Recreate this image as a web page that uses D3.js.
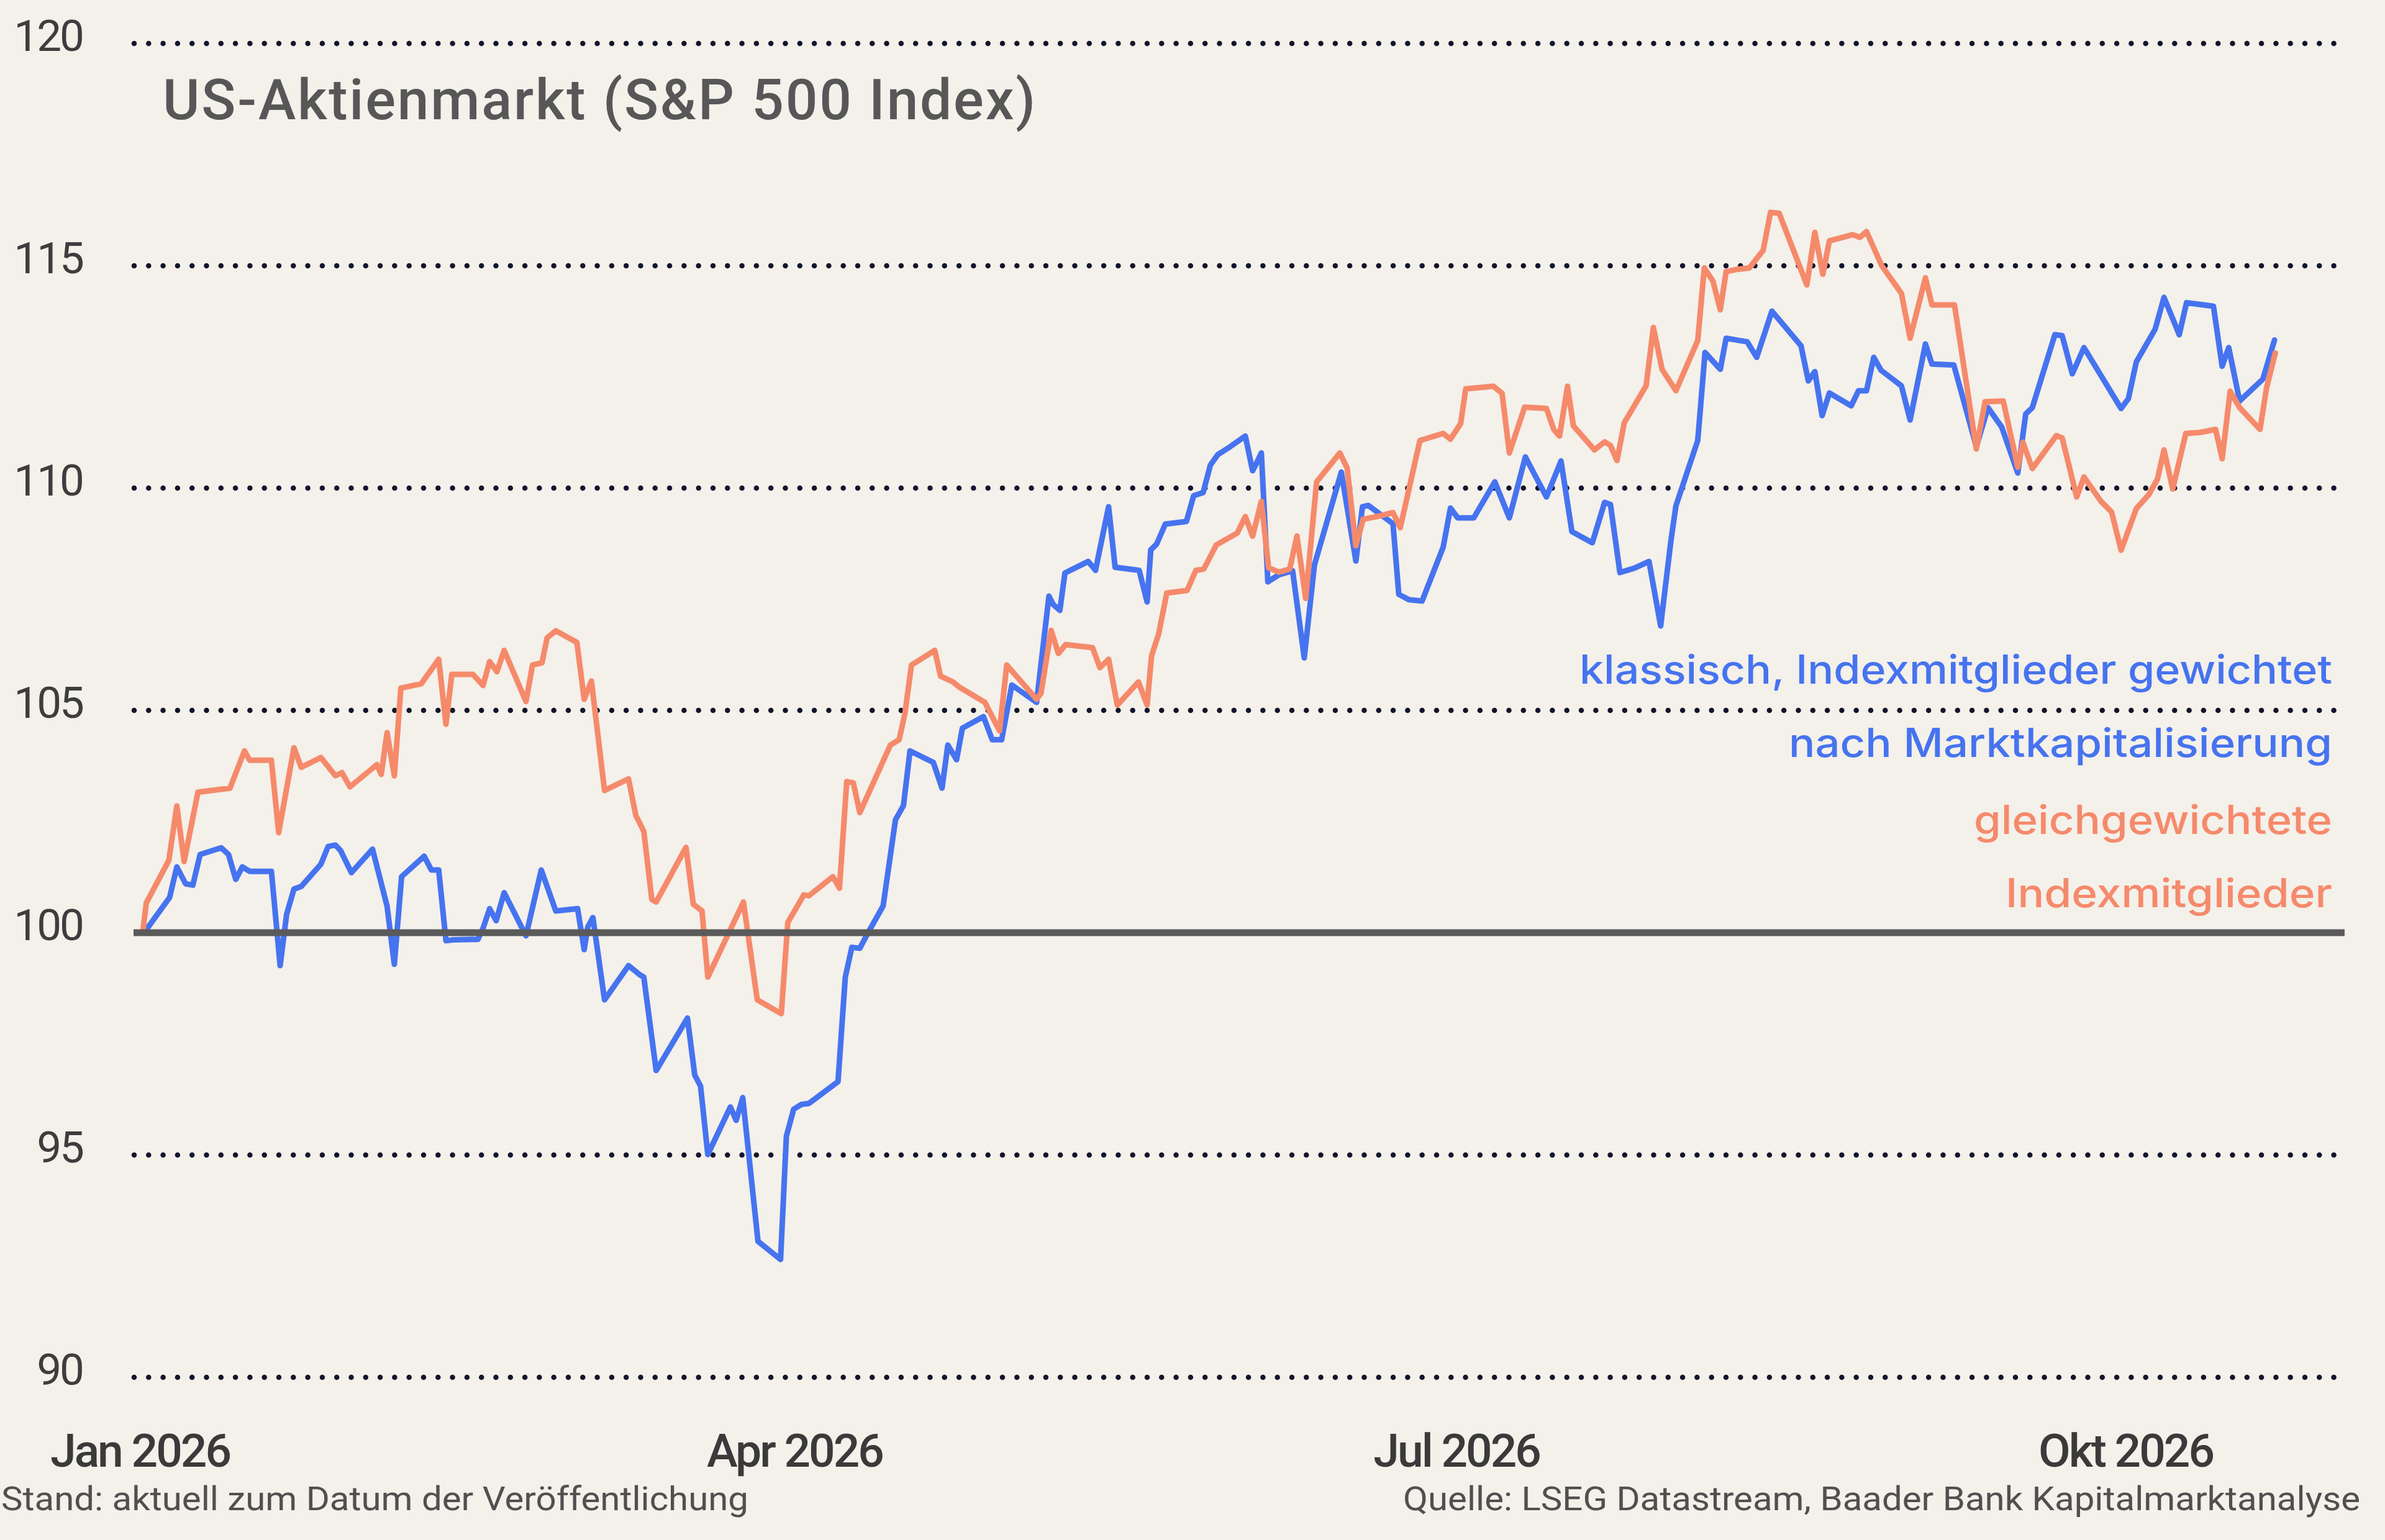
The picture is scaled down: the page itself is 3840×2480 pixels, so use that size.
<!DOCTYPE html>
<html><head><meta charset="utf-8">
<script src="https://cdn.jsdelivr.net/npm/d3@7"></script>
<style>html,body{margin:0;padding:0;background:#f4f0ea;} svg{display:block}</style>
</head><body>
<svg id="chart" width="3840" height="2480"></svg>
<script>
// ---------- data ----------
const chartTitle = "US-Aktienmarkt (S&P 500 Index)";
const yTicks = [90, 95, 100, 105, 110, 115, 120];
const xTickDates = ["2026-01-01", "2026-04-01", "2026-07-01", "2026-10-01"];
const xTickLabels = ["Jan 2026", "Apr 2026", "Jul 2026", "Okt 2026"];
const blueLabel = ["klassisch, Indexmitglieder gewichtet", "nach Marktkapitalisierung"];
const orangeLabel = ["gleichgewichtete", "Indexmitglieder"];
const footLeft = "Stand: aktuell zum Datum der Veröffentlichung";
const footRight = "Quelle: LSEG Datastream, Baader Bank Kapitalmarktanalyse";

// days after 1 Jan 2026
const blueDays = [0.6,4.1,5.1,6.3,7.3,8.3,11.2,12.2,13.2,14.1,
15.1,18.1,19.3,20.2,21.2,22.2,24.9,25.9,26.9,27.6,
29.1,32.0,34.0,35.0,36.0,39.1,40.1,41.1,42.1,43.1,
46.5,47.2,48.1,49.0,50.1,53.1,55.2,57.2,60.2,61.1,
61.6,62.3,63.9,67.2,68.7,69.3,71.0,75.3,76.3,77.1,
78.1,81.2,82.0,82.9,85.0,88.1,88.9,89.9,91.0,92.0,
96.0,97.0,97.9,99.0,100.3,102.2,103.9,105.0,105.9,109.1,
110.3,111.1,112.3,113.1,116.0,117.2,118.5,119.9,123.3,125.0,
125.6,126.5,127.2,130.4,131.4,133.2,134.1,137.4,138.5,139.0,
139.8,141.0,143.9,144.9,146.2,147.2,148.2,149.9,152.0,153.0,
153.6,154.2,155.1,156.6,158.5,160.1,161.5,165.2,167.2,168.1,
168.9,172.3,173.1,174.5,176.3,179.2,180.2,181.2,183.4,186.3,
188.3,190.5,193.4,195.4,196.9,199.7,201.4,202.2,203.5,205.5,
207.5,209.1,210.5,211.2,214.2,215.2,217.3,218.1,221.0,222.3,
224.4,228.4,229.4,230.3,231.3,232.3,235.3,236.3,237.4,238.4,
239.4,242.2,243.4,245.5,246.4,249.4,252.5,254.1,256.0,258.2,
259.3,260.2,263.3,264.3,265.7,267.3,272.4,273.4,274.5,277.1,
278.3,280.4,281.4,285.1,286.3,287.2,288.7,291.9,293.5];
const blueValues = [100.0,100.79,101.48,101.1,101.07,101.76,101.91,101.76,101.2,101.48,
101.38,101.38,99.26,100.42,100.98,101.04,101.54,101.94,101.97,101.85,
101.35,101.88,100.6,99.29,101.26,101.72,101.41,101.41,99.82,99.84,
99.85,100.1,100.54,100.27,100.9,99.93,101.41,100.49,100.54,99.62,
100.13,100.34,98.49,99.26,99.06,99.0,96.9,98.08,96.8,96.55,
95.01,96.08,95.78,96.29,93.06,92.65,95.42,96.03,96.14,96.16,
96.65,99.0,99.67,99.65,100.05,100.6,102.54,102.86,104.09,103.83,
103.25,104.22,103.89,104.6,104.86,104.34,104.34,105.57,105.18,107.57,
107.38,107.25,108.09,108.35,108.15,109.58,108.22,108.15,107.44,108.61,
108.74,109.19,109.25,109.83,109.9,110.52,110.75,110.93,111.17,110.39,
110.58,110.79,107.89,108.05,108.14,106.18,108.27,110.36,108.36,109.58,
109.61,109.2,107.61,107.49,107.46,108.67,109.55,109.33,109.33,110.14,
109.33,110.7,109.8,110.61,109.02,108.77,109.68,109.63,108.1,108.2,
108.35,106.9,108.8,109.6,111.07,113.05,112.67,113.37,113.29,112.94,
113.98,113.2,112.41,112.62,111.63,112.14,111.85,112.19,112.19,112.94,
112.65,112.3,111.53,113.24,112.79,112.77,110.93,111.81,111.37,110.34,
111.67,111.81,113.45,113.43,112.57,113.16,111.79,112.01,112.84,113.58,
114.29,113.45,114.17,114.09,112.74,113.16,111.96,112.45,113.33];

const orangeDays = [0.4,0.9,4.0,5.1,6.1,8.0,12.4,14.4,15.1,18.1,
19.1,21.2,22.2,24.9,26.9,27.8,28.9,32.6,33.2,34.0,
35.0,35.9,38.7,41.1,42.1,42.9,45.8,47.2,48.1,49.1,
50.1,53.1,54.0,55.3,56.0,57.2,60.1,61.1,62.1,63.9,
67.2,68.2,69.3,70.4,71.0,75.1,76.1,77.3,78.1,83.0,
84.9,88.2,89.1,91.3,92.0,95.3,96.2,97.2,98.1,99.0,
103.2,104.4,105.2,106.1,109.3,110.1,111.8,112.8,116.2,118.2,
119.2,123.3,123.9,125.3,126.3,127.3,131.0,132.0,133.2,134.4,
137.3,138.5,139.1,140.1,141.2,144.0,145.2,146.3,148.0,150.9,
152.0,153.0,154.2,155.2,156.6,158.1,159.1,160.3,161.8,165.0,
166.0,167.2,168.2,170.1,172.3,173.3,176.0,179.2,180.2,181.6,
182.3,186.1,187.3,188.3,190.4,193.4,194.4,195.2,196.3,197.1,
200.0,201.4,202.2,203.1,204.1,207.1,208.1,209.3,211.2,214.2,
215.1,216.3,217.3,218.1,219.6,221.3,223.2,224.2,225.4,229.2,
230.3,231.4,232.3,235.5,236.5,237.4,239.5,242.2,243.4,245.5,
246.4,249.5,252.5,253.7,256.2,258.2,258.9,260.2,263.5,264.3,
266.3,267.3,269.6,271.1,272.4,274.5,276.2,277.4,278.3,279.5,
281.3,283.2,285.4,286.3,287.4,288.7,291.5,292.4,293.6];
const orangeValues = [100.0,100.67,101.63,102.85,101.6,103.16,103.25,104.09,103.88,103.88,
102.25,104.16,103.72,103.94,103.53,103.6,103.28,103.78,103.56,104.5,
103.53,105.5,105.6,106.15,104.69,105.81,105.81,105.56,106.1,105.87,
106.35,105.2,106.02,106.07,106.63,106.79,106.53,105.25,105.66,103.2,
103.46,102.64,102.28,100.75,100.69,101.92,100.64,100.49,99.0,100.69,
98.49,98.18,100.23,100.85,100.83,101.26,101.0,103.4,103.37,102.7,
104.22,104.34,104.93,106.02,106.35,105.77,105.64,105.51,105.18,104.54,
106.02,105.25,105.38,106.8,106.28,106.48,106.41,105.96,106.15,105.12,
105.64,105.12,106.22,106.73,107.64,107.7,108.15,108.18,108.72,108.99,
109.36,108.92,109.7,108.21,108.11,108.18,108.92,107.52,110.14,110.79,
110.45,108.7,109.3,109.36,109.45,109.11,111.07,111.23,111.1,111.45,
112.23,112.29,112.13,110.79,111.82,111.79,111.32,111.17,112.29,111.4,
110.86,111.04,110.96,110.62,111.47,112.3,113.61,112.67,112.19,113.32,
114.95,114.65,114.01,114.87,114.92,114.95,115.35,116.2,116.18,114.57,
115.75,114.81,115.56,115.7,115.64,115.77,115.0,114.38,113.37,114.73,
114.12,114.12,110.88,111.94,111.96,110.47,111.03,110.44,111.18,111.13,
109.8,110.25,109.71,109.46,108.6,109.54,109.85,110.2,110.86,109.98,
111.23,111.25,111.32,110.66,112.18,111.81,111.32,112.25,113.04];

// ---------- drawing ----------
const BLUE = "#4673ef", ORANGE = "#f58a6b";
const FONT = "Roboto, 'Liberation Sans', sans-serif";
const LFONT = "Inter, Roboto, sans-serif";
const svg = d3.select("#chart");
svg.append("rect").attr("width", 3840).attr("height", 2480).attr("fill", "#f4f0ea");

const DAY = 864e5;
const t0 = Date.UTC(2026, 0, 1);
const toDate = d => new Date(t0 + d * DAY);
const x = d3.scaleUtc()
  .domain([new Date(Date.UTC(2025, 11, 31)), new Date(Date.UTC(2026, 9, 31))])
  .range([213.3, 3773.4]);
const y = d3.scaleLinear().domain([90, 120]).range([2218, 70]);

// dotted gridlines
svg.append("g").selectAll("line")
  .data(yTicks.filter(v => v !== 100))
  .join("line")
  .attr("x1", 216).attr("x2", 3760)
  .attr("y1", d => y(d)).attr("y2", d => y(d))
  .attr("stroke", "#10152c").attr("stroke-width", 8.5)
  .attr("stroke-linecap", "round").attr("stroke-dasharray", "0 23.3");

// y axis labels
const yAxis = svg.append("g").attr("transform", "translate(133,0)")
  .call(d3.axisLeft(y).tickValues(yTicks).tickSize(0).tickPadding(0).tickFormat(d3.format("d")));
yAxis.select(".domain").remove();
yAxis.selectAll("text")
  .attr("dy", 11)
  .attr("font-family", FONT).attr("font-size", 71).attr("fill", "#3d3d3d")
  .attr("letter-spacing", -3);

// x axis labels
const xAxis = svg.append("g").attr("transform", "translate(0,2362)")
  .call(d3.axisBottom(x).tickValues(xTickDates.map(s => new Date(s + "T00:00:00Z")))
    .tickSize(0).tickPadding(0).tickFormat((d, i) => xTickLabels[i]));
xAxis.select(".domain").remove();
xAxis.selectAll("text")
  .attr("y", 0).attr("dy", 0)
  .attr("font-family", FONT).attr("font-size", 75).attr("font-weight", 500)
  .attr("fill", "#3a3a3a").attr("letter-spacing", -3);

// series lines
const line = d3.line().x(d => x(d[0])).y(d => y(d[1])).curve(d3.curveLinear);
const blueData = blueDays.map((d, i) => [toDate(d), blueValues[i]]);
const orangeData = orangeDays.map((d, i) => [toDate(d), orangeValues[i]]);
svg.append("path").datum(blueData).attr("d", line)
  .attr("fill", "none").attr("stroke", BLUE).attr("stroke-width", 9)
  .attr("stroke-linejoin", "round").attr("stroke-linecap", "round");
svg.append("path").datum(orangeData).attr("d", line)
  .attr("fill", "none").attr("stroke", ORANGE).attr("stroke-width", 9)
  .attr("stroke-linejoin", "round").attr("stroke-linecap", "round");

// baseline at 100
svg.append("line").attr("x1", 215).attr("x2", 3775)
  .attr("y1", y(100)).attr("y2", y(100))
  .attr("stroke", "#5a5a5a").attr("stroke-width", 11);

// title
svg.append("text").attr("x", 262).attr("y", 192)
  .attr("font-family", FONT).attr("font-size", 91).attr("font-weight", 500)
  .attr("fill", "#575757").attr("textLength", 1405).attr("lengthAdjust", "spacing")
  .text(chartTitle);

// legend labels
const legend = [
  {t: blueLabel[0], y: 1101, c: BLUE, w: 1212},
  {t: blueLabel[1], y: 1219, c: BLUE, w: 875},
  {t: orangeLabel[0], y: 1343, c: ORANGE, w: 577},
  {t: orangeLabel[1], y: 1461, c: ORANGE, w: 526}
];
svg.append("g").selectAll("text").data(legend).join("text")
  .attr("x", 3755).attr("y", d => d.y).attr("text-anchor", "end")
  .attr("font-family", LFONT).attr("font-size", 64).attr("font-weight", 500)
  .attr("fill", d => d.c).attr("textLength", d => d.w).attr("lengthAdjust", "spacingAndGlyphs")
  .text(d => d.t);

// footer
svg.append("text").attr("x", 2).attr("y", 2432)
  .attr("font-family", FONT).attr("font-size", 53).attr("fill", "#505050")
  .attr("textLength", 1203).attr("lengthAdjust", "spacingAndGlyphs").text(footLeft);
svg.append("text").attr("x", 3800).attr("y", 2432).attr("text-anchor", "end")
  .attr("font-family", FONT).attr("font-size", 53).attr("fill", "#505050")
  .attr("textLength", 1541).attr("lengthAdjust", "spacingAndGlyphs").text(footRight);
</script>
</body></html>
